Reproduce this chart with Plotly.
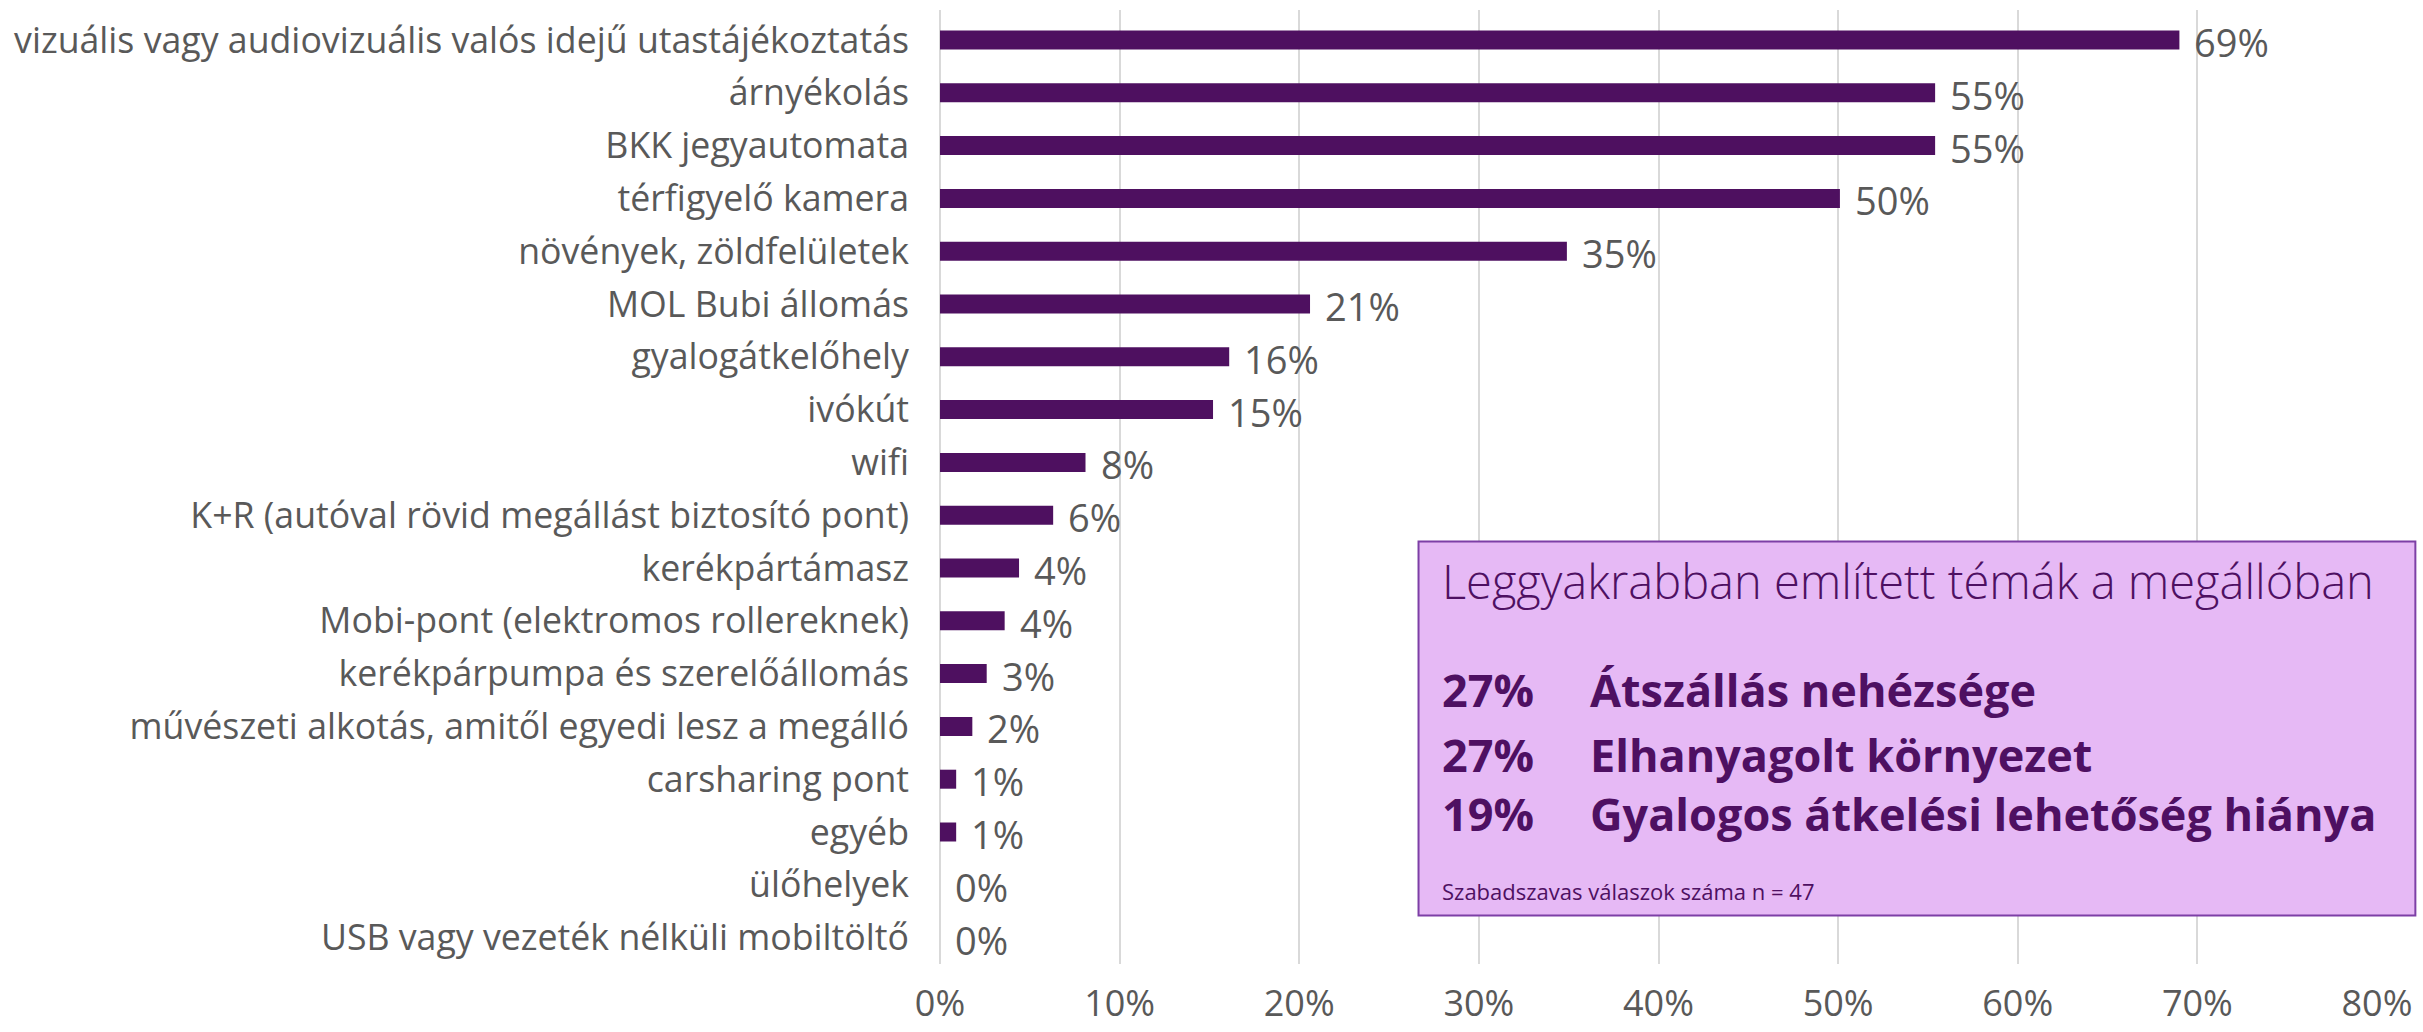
import plotly.graph_objects as go

# Survey results: which amenities respondents want at the stop
categories = [
    "vizuális vagy audiovizuális valós idejű utastájékoztatás",
    "árnyékolás",
    "BKK jegyautomata",
    "térfigyelő kamera",
    "növények, zöldfelületek",
    "MOL Bubi állomás",
    "gyalogátkelőhely",
    "ivókút",
    "wifi",
    "K+R (autóval rövid megállást biztosító pont)",
    "kerékpártámasz",
    "Mobi-pont (elektromos rollereknek)",
    "kerékpárpumpa és szerelőállomás",
    "művészeti alkotás, amitől egyedi lesz a megálló",
    "carsharing pont",
    "egyéb",
    "ülőhelyek",
    "USB vagy vezeték nélküli mobiltöltő",
]
shares = [69.0, 55.4, 55.4, 50.1, 34.9, 20.6, 16.1, 15.2, 8.1, 6.3,
          4.4, 3.6, 2.6, 1.8, 0.9, 0.9, 0.0, 0.0]

x_ticks = [0, 10, 20, 30, 40, 50, 60, 70, 80]
x_tick_labels = ["0%", "10%", "20%", "30%", "40%", "50%", "60%", "70%", "80%"]

# Open-ended answers summary
box_title = "Leggyakrabban említett témák a megállóban"
box_pcts = ["27%", "27%", "19%"]
box_topics = ["Átszállás nehézsége", "Elhanyagolt környezet",
              "Gyalogos átkelési lehetőség hiánya"]
box_note = "Szabadszavas válaszok száma n = 47"

BAR = "#4E1060"
GREY_TXT = "#595959"
GRID = "#D9D9D9"
FONT = "Open Sans"

fig = go.Figure()
fig.add_trace(go.Bar(
    x=shares,
    y=categories,
    orientation="h",
    marker=dict(color=BAR, line=dict(width=0)),
    hoverinfo="skip",
))

# value labels to the right of each bar
for cat, v in zip(categories, shares):
    fig.add_annotation(
        x=v, y=cat, xref="x", yref="y",
        text=f"{v:.0f}%", showarrow=False,
        xanchor="left", yanchor="middle", xshift=13, yshift=-2,
        font=dict(family=FONT, size=38, color=GREY_TXT),
    )

# summary box
fig.add_shape(
    type="rect", xref="paper", yref="paper",
    x0=0.333, x1=1.0267, y0=0.0508, y1=0.4429,
    fillcolor="#E6B9F5", line=dict(color="#7D3FA6", width=2),
    layer="above",
)
BOX_TXT = "#4E1062"
fig.add_annotation(
    x=0.3482, y=0.401, xref="paper", yref="paper",
    text=box_title, showarrow=False, xanchor="left", yanchor="middle",
    font=dict(family=FONT, size=47, color=BOX_TXT, weight=300),
)
for yy, p, t in zip([0.2877, 0.2196, 0.1578], box_pcts, box_topics):
    fig.add_annotation(
        x=0.3482, y=yy, xref="paper", yref="paper",
        text=f"<b>{p}</b>", showarrow=False, xanchor="left", yanchor="middle",
        font=dict(family=FONT, size=45, color=BOX_TXT),
    )
    fig.add_annotation(
        x=0.4512, y=yy, xref="paper", yref="paper",
        text=f"<b>{t}</b>", showarrow=False, xanchor="left", yanchor="middle",
        font=dict(family=FONT, size=45, color=BOX_TXT),
    )
fig.add_annotation(
    x=0.3482, y=0.077, xref="paper", yref="paper",
    text=box_note, showarrow=False, xanchor="left", yanchor="middle",
    font=dict(family=FONT, size=22, color=BOX_TXT),
)

fig.update_layout(
    width=2423, height=1032,
    margin=dict(l=940, r=46, t=10, b=68),
    plot_bgcolor="white", paper_bgcolor="white",
    bargap=0.64,
    showlegend=False,
    font=dict(family=FONT, color=GREY_TXT),
)
fig.update_xaxes(
    range=[0, 80], tickvals=x_ticks, ticktext=x_tick_labels,
    showgrid=True, gridcolor=GRID, gridwidth=1.5,
    zeroline=True, zerolinecolor=GRID, zerolinewidth=1.5,
    showline=False, ticks="", automargin=False,
    tickfont=dict(family=FONT, size=36, color=GREY_TXT),
    ticklabelstandoff=15,
)
fig.update_yaxes(
    autorange="reversed", showgrid=False, ticks="", automargin=False,
    tickfont=dict(family=FONT, size=35.7, color=GREY_TXT),
    ticklabelstandoff=30,
)

fig.write_html("out.html")
